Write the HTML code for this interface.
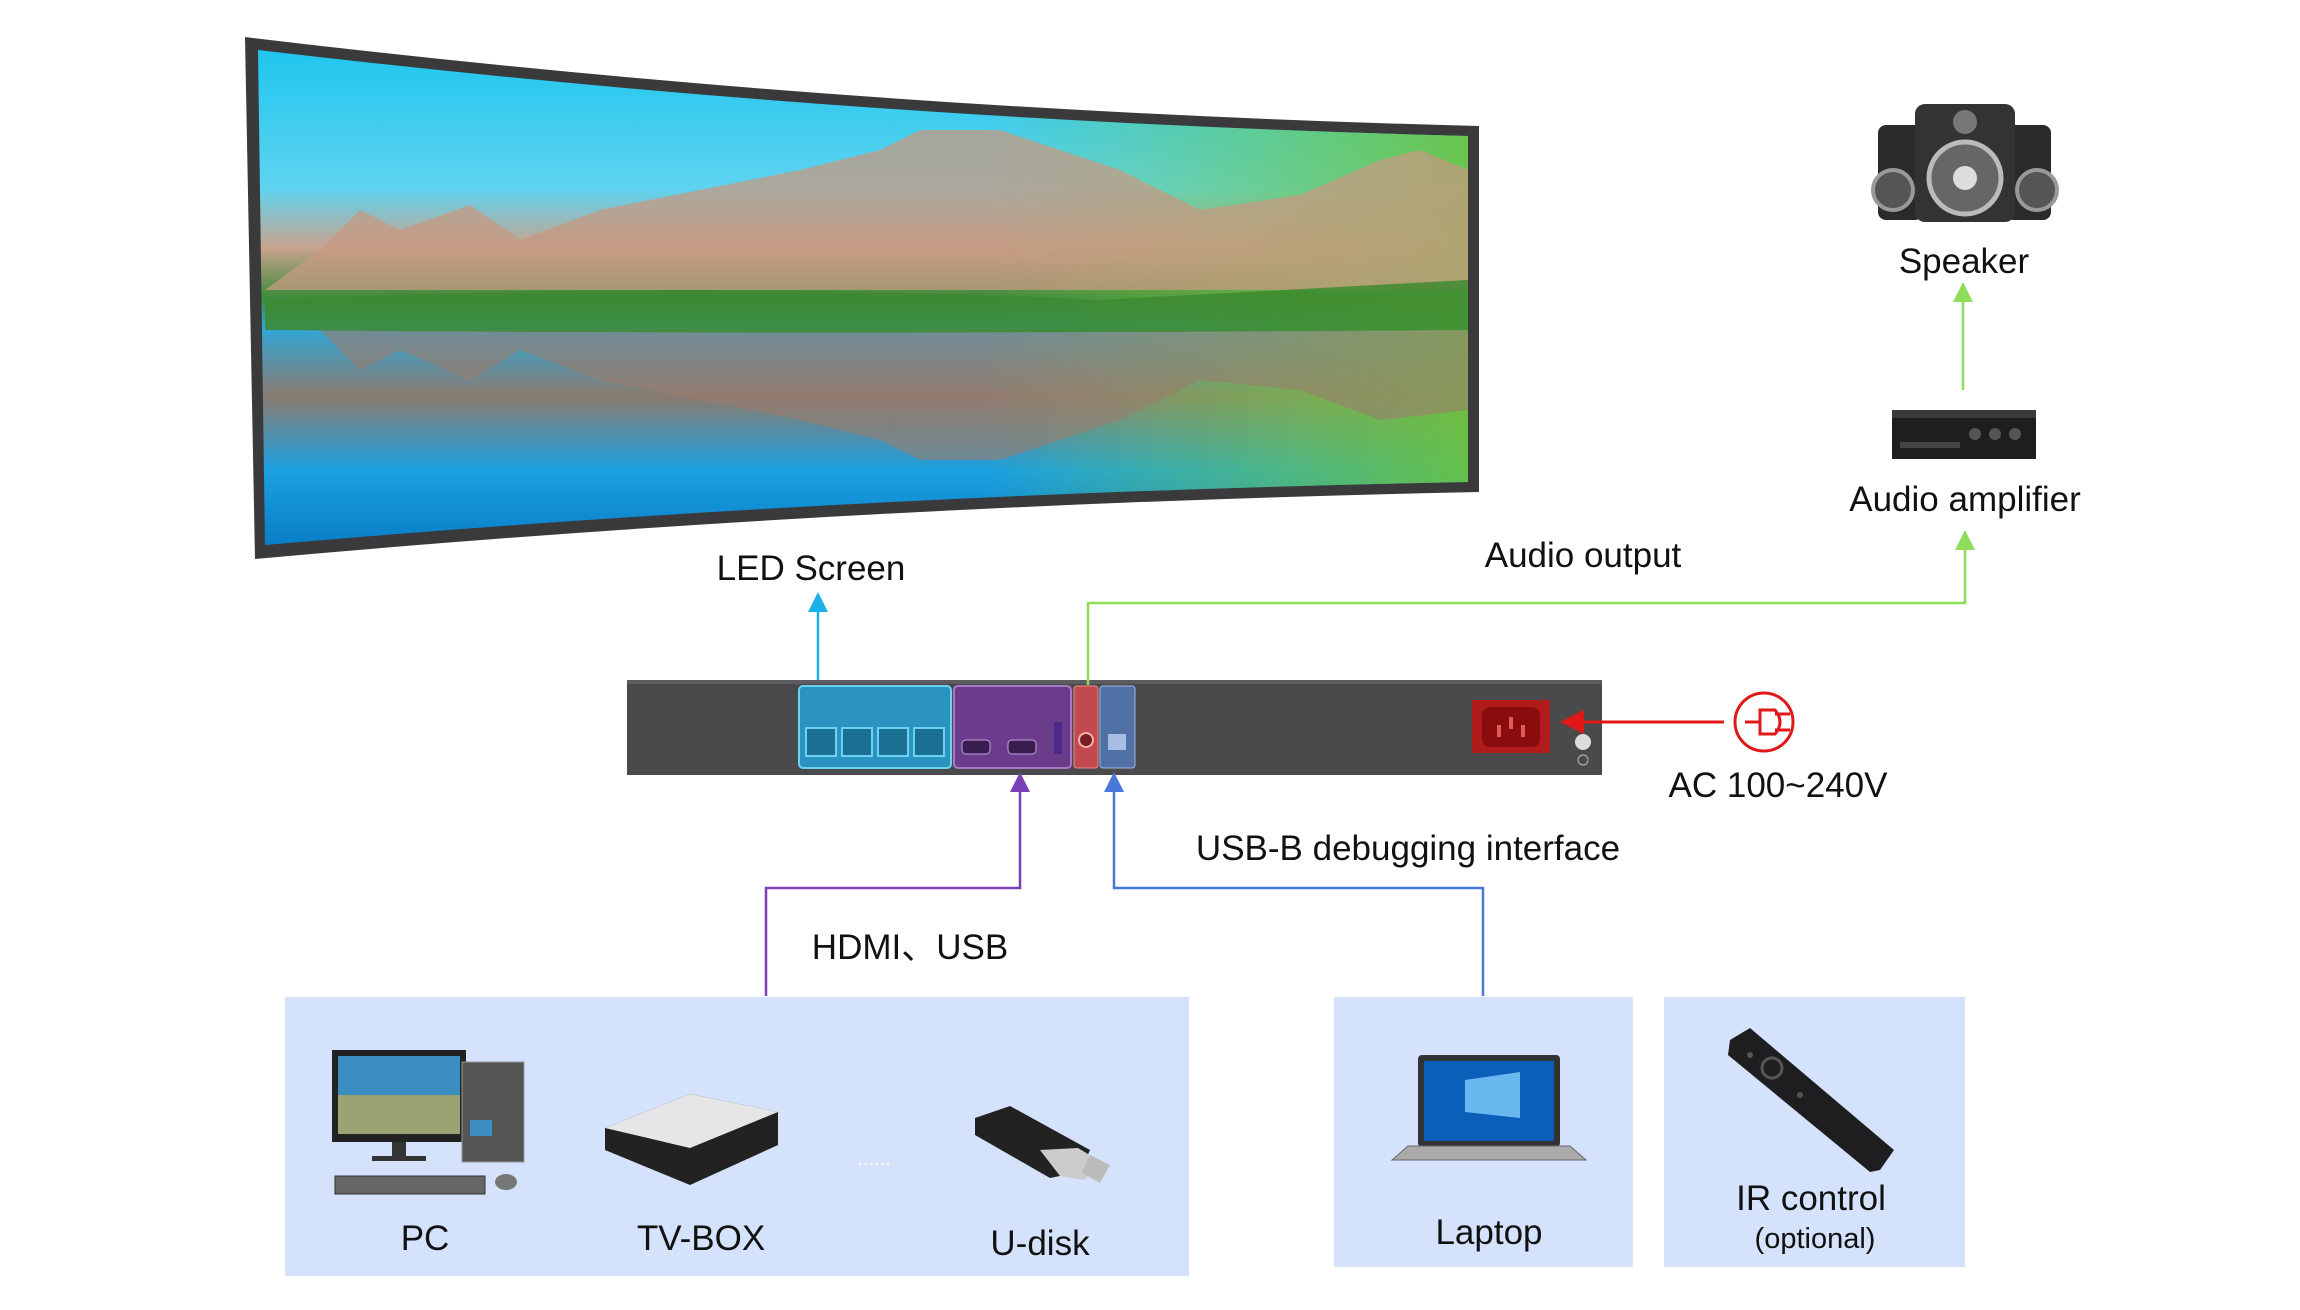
<!DOCTYPE html>
<html><head><meta charset="utf-8"><style>
html,body{margin:0;padding:0;background:#fff;}
svg{display:block;}
text{font-family:"Liberation Sans",sans-serif;fill:#111;}
</style></head><body>
<svg width="2300" height="1310" viewBox="0 0 2300 1310" xmlns="http://www.w3.org/2000/svg">
<defs>
<linearGradient id="sky" x1="0" y1="0" x2="0" y2="1">
<stop offset="0" stop-color="#1fc6ee"/><stop offset="0.28" stop-color="#5fd3f0"/>
<stop offset="0.4" stop-color="#c9a38e"/><stop offset="0.5" stop-color="#3f8a3a"/>
<stop offset="0.56" stop-color="#2fa7d8"/><stop offset="0.7" stop-color="#8a7b70"/>
<stop offset="0.85" stop-color="#1aa0e0"/><stop offset="1" stop-color="#0a7ec8"/>
</linearGradient>
<linearGradient id="grass" x1="0" y1="0" x2="1" y2="0">
<stop offset="0.6" stop-color="#7fd04a" stop-opacity="0"/><stop offset="1" stop-color="#6cc43a" stop-opacity="0.9"/>
</linearGradient>
<marker id="arB" markerWidth="8" markerHeight="8" refX="4" refY="4" orient="auto"><path d="M0,0 L8,4 L0,8 z" fill="#1ab0e8"/></marker>
<marker id="arG" markerWidth="8" markerHeight="8" refX="4" refY="4" orient="auto"><path d="M0,0 L8,4 L0,8 z" fill="#8fdc5a"/></marker>
<marker id="arP" markerWidth="8" markerHeight="8" refX="4" refY="4" orient="auto"><path d="M0,0 L8,4 L0,8 z" fill="#7d3fb5"/></marker>
<marker id="arU" markerWidth="8" markerHeight="8" refX="4" refY="4" orient="auto"><path d="M0,0 L8,4 L0,8 z" fill="#4a78d8"/></marker>
<marker id="arR" markerWidth="8" markerHeight="8" refX="4" refY="4" orient="auto"><path d="M0,0 L8,4 L0,8 z" fill="#e01818"/></marker>
</defs>

<!-- LED screen -->
<path d="M245,37 Q850,110 1479,126 L1479,492 Q850,505 255,559 Z" fill="#3a3a3c"/>
<path d="M258,50 Q850,120 1468,136 L1468,482 Q850,494 265,545 Z" fill="url(#sky)"/>
<path d="M258,50 Q850,120 1468,136 L1468,482 Q850,494 265,545 Z" fill="url(#grass)"/>
<path d="M320,250 L360,210 L400,230 L470,205 L520,240 L600,210 L700,190 L800,170 L880,150 L920,130 L1000,130 L1060,150 L1120,170 L1200,210 L1300,195 L1380,160 L1420,150 L1468,170 L1468,290 L265,290 Z" fill="#c59a82" opacity="0.75"/>
<path d="M320,330 L360,370 L400,350 L470,380 L520,350 L600,380 L700,400 L800,420 L880,440 L920,460 L1000,460 L1060,440 L1120,420 L1200,380 L1300,390 L1380,420 L1468,410 L1468,330 L265,330 Z" fill="#9a7d6e" opacity="0.6"/>
<path d="M265,300 Q700,280 1100,300 L1468,280 L1468,330 Q800,335 265,330 Z" fill="#3d8a30" opacity="0.85"/>

<text x="811" y="580" font-size="35" text-anchor="middle">LED Screen</text>
<line x1="818" y1="685" x2="818" y2="602" stroke="#1ab0e8" stroke-width="2.5" marker-end="url(#arB)"/>

<!-- device -->
<rect x="627" y="680" width="975" height="95" fill="#4a4a4c"/>
<rect x="627" y="680" width="975" height="4" fill="#5c5c5e"/>
<rect x="799" y="686" width="152" height="82" rx="4" fill="#2a93bf" stroke="#6cd2f2" stroke-width="2"/>
<g fill="#1a6f92" stroke="#6cd2f2" stroke-width="2">
<rect x="806" y="728" width="30" height="28"/><rect x="842" y="728" width="30" height="28"/><rect x="878" y="728" width="30" height="28"/><rect x="914" y="728" width="30" height="28"/></g>
<rect x="954" y="686" width="117" height="82" rx="4" fill="#6c3c8c" stroke="#a77ac5" stroke-width="2"/>
<rect x="962" y="740" width="28" height="14" rx="4" fill="#3a1d50" stroke="#c8a0e0"/>
<rect x="1008" y="740" width="28" height="14" rx="4" fill="#3a1d50" stroke="#c8a0e0"/>
<rect x="1054" y="722" width="8" height="32" fill="#4a2a8a"/>
<rect x="1074" y="686" width="24" height="82" rx="3" fill="#c24a4f" stroke="#e88"/>
<circle cx="1086" cy="740" r="7" fill="#7a1e22" stroke="#f2b0b0" stroke-width="2"/>
<rect x="1100" y="686" width="35" height="82" rx="3" fill="#5170a5" stroke="#9fb6e2"/>
<rect x="1108" y="734" width="18" height="16" fill="#a8bde6"/>
<rect x="1472" y="700" width="78" height="53" fill="#b01c1c"/>
<rect x="1482" y="707" width="58" height="40" rx="8" fill="#8a0c0c"/>
<rect x="1497" y="725" width="4" height="12" fill="#e05a5a"/><rect x="1509" y="717" width="4" height="12" fill="#e05a5a"/><rect x="1521" y="725" width="4" height="12" fill="#e05a5a"/>
<circle cx="1583" cy="742" r="8" fill="#ddd"/>
<circle cx="1583" cy="760" r="5" fill="none" stroke="#bbb"/>

<!-- audio line -->
<polyline points="1088,685 1088,603 1965,603 1965,540" fill="none" stroke="#8fdc5a" stroke-width="2.5" marker-end="url(#arG)"/>
<text x="1583" y="567" font-size="35" text-anchor="middle">Audio output</text>
<!-- amplifier -->
<rect x="1892" y="410" width="144" height="49" fill="#1e1e20"/>
<rect x="1892" y="410" width="144" height="8" fill="#3a3a3c"/>
<circle cx="1975" cy="434" r="6" fill="#555"/><circle cx="1995" cy="434" r="6" fill="#555"/><circle cx="2015" cy="434" r="6" fill="#555"/>
<rect x="1900" y="442" width="60" height="6" fill="#444"/>
<text x="1965" y="511" font-size="35" text-anchor="middle">Audio amplifier</text>
<line x1="1963" y1="390" x2="1963" y2="292" stroke="#8fdc5a" stroke-width="2.5" marker-end="url(#arG)"/>
<!-- speaker -->
<rect x="1878" y="125" width="45" height="95" rx="8" fill="#2a2a2c"/>
<rect x="2006" y="125" width="45" height="95" rx="8" fill="#2a2a2c"/>
<circle cx="1893" cy="190" r="20" fill="#555" stroke="#999" stroke-width="4"/>
<circle cx="2037" cy="190" r="20" fill="#555" stroke="#999" stroke-width="4"/>
<rect x="1915" y="104" width="100" height="118" rx="10" fill="#333"/>
<circle cx="1965" cy="178" r="36" fill="#666" stroke="#bbb" stroke-width="5"/>
<circle cx="1965" cy="178" r="12" fill="#ddd"/>
<circle cx="1965" cy="122" r="12" fill="#777"/>
<text x="1964" y="273" font-size="35" text-anchor="middle">Speaker</text>

<!-- power -->
<line x1="1724" y1="722" x2="1572" y2="722" stroke="#e01818" stroke-width="3" marker-end="url(#arR)"/>
<circle cx="1764" cy="722" r="29" fill="none" stroke="#e01818" stroke-width="3"/>
<path d="M1745,722 L1760,722 M1760,710 L1760,734 L1775,734 Q1785,722 1775,710 Z M1775,714 L1790,714 M1775,730 L1790,730" fill="none" stroke="#e01818" stroke-width="3"/>
<text x="1778" y="797" font-size="35" text-anchor="middle">AC 100~240V</text>

<!-- HDMI line -->
<polyline points="766,996 766,888 1020,888 1020,782" fill="none" stroke="#7d3fb5" stroke-width="2.5" marker-end="url(#arP)"/>
<text x="910" y="959" font-size="35" text-anchor="middle">HDMI、USB</text>
<!-- USB-B line -->
<polyline points="1483,996 1483,888 1114,888 1114,782" fill="none" stroke="#4a78d8" stroke-width="2.5" marker-end="url(#arU)"/>
<text x="1408" y="860" font-size="35" text-anchor="middle">USB-B debugging interface</text>

<!-- bottom boxes -->
<rect x="285" y="997" width="904" height="279" fill="#d4e3fb"/>
<rect x="1334" y="997" width="299" height="270" fill="#d4e3fb"/>
<rect x="1664" y="997" width="301" height="270" fill="#d4e3fb"/>

<!-- PC -->
<rect x="332" y="1050" width="134" height="92" fill="#222"/>
<rect x="338" y="1056" width="122" height="78" fill="#3d8ec0"/>
<rect x="338" y="1095" width="122" height="39" fill="#d8b040" opacity="0.6"/>
<rect x="392" y="1142" width="14" height="16" fill="#333"/><rect x="372" y="1156" width="54" height="5" fill="#333"/>
<rect x="462" y="1062" width="62" height="100" fill="#555" stroke="#999"/>
<rect x="470" y="1120" width="22" height="16" fill="#3d8ec0"/>
<rect x="335" y="1176" width="150" height="18" fill="#666" stroke="#333"/>
<ellipse cx="506" cy="1182" rx="11" ry="8" fill="#777"/>
<text x="425" y="1250" font-size="35" text-anchor="middle">PC</text>
<!-- TV-box -->
<path d="M605,1128 L690,1094 L778,1112 L778,1145 L690,1185 L605,1150 Z" fill="#222"/>
<path d="M605,1128 L690,1094 L778,1112 L690,1148 Z" fill="#e6e6e8"/>
<text x="701" y="1250" font-size="35" text-anchor="middle">TV-BOX</text>
<text x="874" y="1165" font-size="20" fill="#fff" text-anchor="middle" style="fill:#fff">......</text>
<!-- U-disk -->
<path d="M975,1118 L1010,1106 L1090,1150 L1080,1172 L1050,1178 L975,1135 Z" fill="#222"/>
<path d="M1040,1150 L1078,1148 L1098,1160 L1085,1180 L1060,1176 Z" fill="#ccc"/>
<path d="M1090,1155 L1110,1165 L1100,1183 L1082,1173 Z" fill="#bbb"/>
<text x="1040" y="1255" font-size="35" text-anchor="middle">U-disk</text>
<!-- Laptop -->
<rect x="1418" y="1055" width="142" height="92" rx="4" fill="#333"/>
<rect x="1424" y="1061" width="130" height="80" fill="#0b5fb8"/>
<path d="M1465,1080 L1520,1072 L1520,1118 L1465,1112 Z" fill="#6ab8f0"/>
<path d="M1392,1160 L1408,1146 L1570,1146 L1586,1160 Z" fill="#aaa" stroke="#666"/>
<text x="1489" y="1244" font-size="35" text-anchor="middle">Laptop</text>
<!-- IR remote -->
<path d="M1730,1040 L1750,1028 L1894,1150 L1880,1170 L1870,1172 L1728,1055 Z" fill="#1e1e20"/>
<circle cx="1772" cy="1068" r="10" fill="none" stroke="#555" stroke-width="3"/>
<circle cx="1800" cy="1095" r="3" fill="#555"/><circle cx="1750" cy="1055" r="3" fill="#555"/>
<text x="1811" y="1210" font-size="35" text-anchor="middle">IR control</text>
<text x="1815" y="1248" font-size="29" text-anchor="middle">(optional)</text>
</svg>
</body></html>
